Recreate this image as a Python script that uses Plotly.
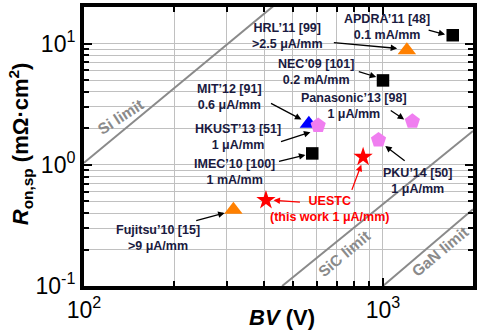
import numpy as np
import plotly.graph_objects as go

# ---- data -------------------------------------------------------------
sq_names = ["APDRA'11", "NEC'09", "IMEC'10"]
sq_bv = [1711, 1000, 580]
sq_r = [11.7, 4.96, 1.24]

orange_names = ["HRL'11", "Fujitsu'10"]
orange_bv = [1202, 316]
orange_r = [8.8, 0.425]

blue_names = ["MIT'12"]
blue_bv = [565]
blue_r = [2.18]

pent_names = ["HKUST'13", "Panasonic'13", "PKU'14"]
pent_bv = [607, 1254, 966]
pent_r = [2.11, 2.28, 1.6]

uestc_bv = [858, 406]
uestc_r = [1.16, 0.51]

# material limit lines (end points)
si_bv, si_r = [100, 500], [1.04, 27.7]
sic_bv, sic_r = [460, 2000], [0.1, 1.9]
gan_bv, gan_r = [1000, 2000], [0.1, 0.43]

x_tickvals = [100, 1000]
x_ticktext = ["10<sup>2</sup>", "10<sup>3</sup>"]
y_tickvals = [0.1, 1, 10]
y_ticktext = ["10<sup>-1</sup>", "10<sup>0</sup>", "10<sup>1</sup>"]

# ---- layout geometry --------------------------------------------------
W, H = 480, 335
ML, MR, MT, MB = 84, 6, 3, 49
XR = [2, np.log10(2000)]
YR = [-1, np.log10(20)]
PW, PH = W - ML - MR, H - MT - MB


def pos(px, py):
    """pixel position -> (log10 BV, log10 R) axis coordinates"""
    lx = XR[0] + (px - ML) / PW * (XR[1] - XR[0])
    ly = YR[1] - (py - MT) / PH * (YR[1] - YR[0])
    return lx, ly


FONT = "Arial, Liberation Sans, sans-serif"
NAVY = "#1a1a40"
GRAY_LINE = "#8a8a8a"

fig = go.Figure()

for bx, ry in [(si_bv, si_r), (sic_bv, sic_r), (gan_bv, gan_r)]:
    fig.add_trace(go.Scatter(x=bx, y=ry, mode="lines",
                             line=dict(color=GRAY_LINE, width=2),
                             hoverinfo="skip", showlegend=False))

fig.add_trace(go.Scatter(x=sq_bv, y=sq_r, mode="markers", text=sq_names,
                         marker=dict(symbol="square", size=12.5, color="black"),
                         showlegend=False))
fig.add_trace(go.Scatter(x=orange_bv, y=orange_r, mode="markers", text=orange_names,
                         marker=dict(symbol="triangle-up", size=16, color="#ff8000"),
                         showlegend=False))
fig.add_trace(go.Scatter(x=blue_bv, y=blue_r, mode="markers", text=blue_names,
                         marker=dict(symbol="triangle-up", size=16, color="#0000ff"),
                         showlegend=False))
fig.add_trace(go.Scatter(x=pent_bv, y=pent_r, mode="markers", text=pent_names,
                         marker=dict(symbol="pentagon", size=16, color="#f07ef0"),
                         showlegend=False))
fig.add_trace(go.Scatter(x=uestc_bv, y=uestc_r, mode="markers",
                         marker=dict(symbol="star", size=14.5, color="#ff0000"),
                         showlegend=False))

annotations = []


def label(px, py, text, color=NAVY, size=12.5):
    x, y = pos(px, py)
    annotations.append(dict(x=x, y=y, xref="x", yref="y", text=text,
                            showarrow=False, xanchor="center", yanchor="middle",
                            font=dict(family=FONT, size=size, color=color)))


def arrow(tx, ty, hx, hy, color="black"):
    ax, ay = pos(tx, ty)
    x, y = pos(hx, hy)
    annotations.append(dict(x=x, y=y, ax=ax, ay=ay, xref="x", yref="y",
                            axref="x", ayref="y", text="", showarrow=True,
                            arrowhead=2, arrowsize=1, arrowwidth=1.3,
                            arrowcolor=color))


label(388, 23.5, "<b>APDRA’11 [48]<br>0.1 mA/mm</b>")
arrow(428, 26, 446, 31)
label(288, 32, "<b>HRL’11 [99]<br>>2.5 μA/mm</b>")
arrow(333, 39, 398, 45)
label(317, 68.5, "<b>NEC’09 [101]<br>0.2 mA/mm</b>")
arrow(358, 68, 377, 74)
label(230, 94, "<b>MIT’12 [91]<br>0.6 μA/mm</b>")
arrow(270, 100, 302, 117)
label(238, 134.5, "<b>HKUST’13 [51]<br>1 μA/mm</b>")
arrow(280, 140, 311, 130)
label(235, 170, "<b>IMEC’10 [100]<br>1 mA/mm</b>")
arrow(278, 160, 306, 153)
label(355, 103.5, "<b>Panasonic’13 [98]<br>1 μA/mm</b>")
arrow(390, 107, 405, 117)
label(418, 179, "<b>PKU’14 [50]<br>1 μA/mm</b>")
arrow(407, 160, 386, 144)
label(330, 207.5, "<b>UESTC<br>(this work 1 μA/mm)</b>", color="#ff0000")
arrow(302, 201, 274, 199, color="#ff0000")
arrow(352, 190, 362, 163, color="#ff0000")
label(158, 237, "<b>Fujitsu’10 [15]<br>>9 μA/mm</b>")
arrow(195, 220, 225, 212)

# material limit labels
for (px, py, txt, ang) in [(121, 114, "Si limit", -33),
                           (345, 253, "SiC limit", -40),
                           (441, 251, "GaN limit", -40)]:
    x, y = pos(px, py)
    annotations.append(dict(x=x, y=y, xref="x", yref="y", text=f"<b>{txt}</b>",
                            showarrow=False, textangle=ang,
                            xanchor="center", yanchor="middle",
                            font=dict(family=FONT, size=15.5, color=GRAY_LINE)))

# axis titles
annotations.append(dict(x=283, y=H - 318, xref="paper", yref="paper",
                        text="<b><i>BV</i> (V)</b>", showarrow=False,
                        xanchor="center", yanchor="middle",
                        font=dict(family=FONT, size=22, color="black")))
annotations.append(dict(x=20, y=H - 142, xref="paper", yref="paper",
                        text="<b><i>R</i><sub>on,sp</sub> (mΩ·cm<sup>2</sup>)</b>",
                        showarrow=False, textangle=-90,
                        xanchor="center", yanchor="middle",
                        font=dict(family=FONT, size=22, color="black")))

# paper coords for titles are pixel based; convert to paper fractions
for a in annotations:
    if a.get("xref") == "paper":
        a["x"] = (a["x"] - ML) / PW
        a["y"] = (a["y"] - MB) / PH

axis_common = dict(
    type="log", showline=True, linecolor="black", linewidth=4, mirror="allticks",
    ticks="inside", ticklen=8, tickwidth=2, tickcolor="black",
    showgrid=True, gridcolor="#c0c0c0", gridwidth=1, zeroline=False,
    tickfont=dict(family=FONT, size=23, color="black"),
    minor=dict(ticks="inside", ticklen=5, tickwidth=2, tickcolor="black",
               showgrid=True, gridcolor="#c0c0c0", gridwidth=1, dtick="D1"),
)

fig.update_layout(
    width=W, height=H,
    margin=dict(l=ML, r=MR, t=MT, b=MB),
    paper_bgcolor="white", plot_bgcolor="white",
    xaxis=dict(range=XR, tickmode="array", tickvals=x_tickvals,
               ticktext=x_ticktext, **axis_common),
    yaxis=dict(range=YR, tickmode="array", tickvals=y_tickvals,
               ticktext=y_ticktext, **axis_common),
    annotations=annotations,
)

fig.write_html("out.html")
